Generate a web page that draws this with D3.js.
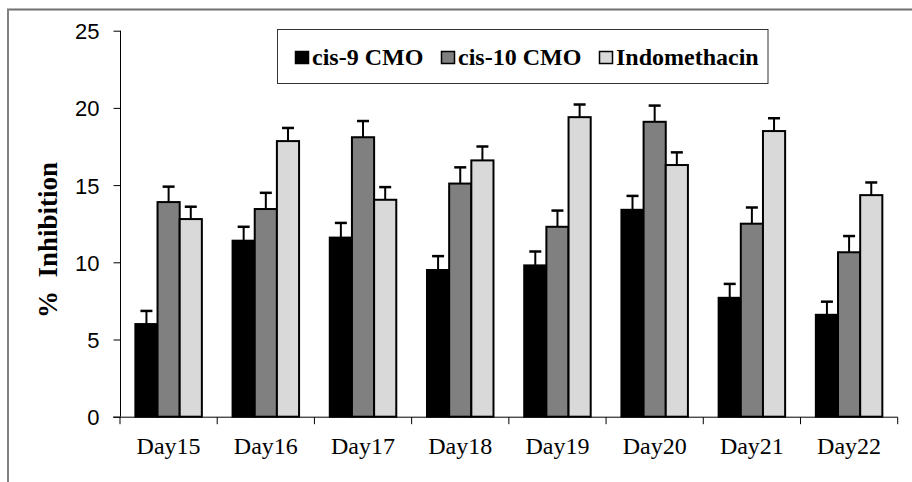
<!DOCTYPE html>
<html>
<head>
<meta charset="utf-8">
<script src="https://cdn.jsdelivr.net/npm/d3@7"></script>
<style>
  body { margin:0; background:#fff; }
  svg { display:block; }
</style>
</head>
<body>
<div id="chart"></div>
<script>
// data
var days = ["Day15","Day16","Day17","Day18","Day19","Day20","Day21","Day22"];
var seriesNames = ["cis-9 CMO","cis-10 CMO","Indomethacin"];
var cis9   = [6.0, 11.4, 11.6, 9.5, 9.8, 13.4, 7.7, 6.6];
var cis9Err  = [0.85, 0.9, 0.95, 0.9, 0.9, 0.9, 0.9, 0.85];
var cis10  = [13.9, 13.45, 18.1, 15.1, 12.3, 19.1, 12.5, 10.65];
var cis10Err = [1.0, 1.05, 1.05, 1.05, 1.05, 1.05, 1.05, 1.05];
var indo   = [12.8, 17.85, 14.05, 16.6, 19.4, 16.3, 18.5, 14.35];
var indoErr  = [0.8, 0.85, 0.82, 0.9, 0.82, 0.82, 0.83, 0.82];
var yTicks = [0, 5, 10, 15, 20, 25];

var fills = ["#000000", "#808080", "#d9d9d9"];
var values = [cis9, cis10, indo];
var errs = [cis9Err, cis10Err, indoErr];

var W = 912, H = 482;
var svg = d3.select('#chart').append('svg')
    .attr('width', W).attr('height', H);

// outer frame (top + left visible)
svg.append('line').attr('x1',7).attr('y1',9.5).attr('x2',W).attr('y2',9.5)
   .attr('stroke','#707070').attr('stroke-width',2);
svg.append('line').attr('x1',8).attr('y1',9).attr('x2',8).attr('y2',H)
   .attr('stroke','#808080').attr('stroke-width',2);

var x = d3.scaleBand().domain(days).range([120, 897.7]).padding(0);
var bw = x.bandwidth();
var xs = d3.scaleBand().domain(d3.range(3)).range([bw*0.158, bw*0.842]).padding(0);
var y = d3.scaleLinear().domain([0, 25]).range([416.7, 30.7]);

// bars
var rows = [];
days.forEach(function(d, i) {
    for (var s = 0; s < 3; s++) rows.push({day:d, s:s, v:values[s][i], e:errs[s][i]});
});

var g = svg.append('g');
g.selectAll('rect.bar').data(rows).enter().append('rect')
    .attr('class','bar')
    .attr('x', function(d){ return x(d.day) + xs(d.s); })
    .attr('y', function(d){ return y(d.v); })
    .attr('width', xs.bandwidth())
    .attr('height', function(d){ return y(0) - y(d.v); })
    .attr('fill', function(d){ return fills[d.s]; })
    .attr('stroke', '#000').attr('stroke-width', 2);

// error bars (up only)
var eb = g.selectAll('g.err').data(rows).enter().append('g').attr('class','err');
eb.append('line')
    .attr('x1', function(d){ return x(d.day) + xs(d.s) + xs.bandwidth()/2; })
    .attr('x2', function(d){ return x(d.day) + xs(d.s) + xs.bandwidth()/2; })
    .attr('y1', function(d){ return y(d.v); })
    .attr('y2', function(d){ return y(d.v + d.e); })
    .attr('stroke','#000').attr('stroke-width',2);
eb.append('line')
    .attr('x1', function(d){ return x(d.day) + xs(d.s) + xs.bandwidth()/2 - 6; })
    .attr('x2', function(d){ return x(d.day) + xs(d.s) + xs.bandwidth()/2 + 6; })
    .attr('y1', function(d){ return y(d.v + d.e); })
    .attr('y2', function(d){ return y(d.v + d.e); })
    .attr('stroke','#000').attr('stroke-width',2.5);

// y axis
var yAxis = d3.axisLeft(y).tickValues(yTicks).tickSize(7).tickPadding(14);
var ya = svg.append('g').attr('transform','translate(120.5,0)').call(yAxis);
ya.select('.domain').attr('d', 'M0,' + y(25) + 'V' + y(0)).attr('stroke','#000');
ya.selectAll('.tick line').attr('stroke','#000');
ya.selectAll('.tick text').attr('font-family','Arial, "Liberation Sans", sans-serif')
    .attr('font-size', 22).attr('fill','#000').attr('dy','0.36em');

// x axis
var xa = svg.append('g').attr('transform','translate(0,' + (y(0)+0.5) + ')');
xa.append('line').attr('x1',113).attr('x2',897.7).attr('y1',0).attr('y2',0).attr('stroke','#000');
var bounds = days.map(function(d){ return x(d); }).concat([x.range()[1]]);
xa.selectAll('line.tk').data(bounds).enter().append('line')
    .attr('class','tk')
    .attr('x1', function(d){ return d; }).attr('x2', function(d){ return d; })
    .attr('y1', 0).attr('y2', 7).attr('stroke','#000');
xa.selectAll('text').data(days).enter().append('text')
    .attr('x', function(d){ return x(d) + bw/2; })
    .attr('y', 37)
    .attr('text-anchor','middle')
    .attr('font-family','"Liberation Serif", "Times New Roman", serif')
    .attr('font-size', 24)
    .text(function(d){ return d; });

// y title
svg.append('text')
    .attr('transform','translate(57,240) rotate(-90)')
    .attr('text-anchor','middle')
    .attr('font-family','"Liberation Serif", "Times New Roman", serif')
    .attr('font-weight','bold')
    .attr('font-size', 27)
    .attr('xml:space','preserve')
    .text('%  Inhibition');

// legend
var leg = svg.append('g');
leg.append('rect').attr('x',277.5).attr('y',29.5).attr('width',490.5).attr('height',54)
    .attr('fill','#fff').attr('stroke','#333').attr('stroke-width',1);
var legX = [295, 441, 599];
seriesNames.forEach(function(n, i) {
    leg.append('rect').attr('x', legX[i] + 0.5).attr('y', 51.5).attr('width', 13).attr('height', 12)
        .attr('fill', fills[i]).attr('stroke','#000').attr('stroke-width',1.5);
    leg.append('text').attr('x', legX[i] + 17).attr('y', 65)
        .attr('font-family','"Liberation Serif", "Times New Roman", serif')
        .attr('font-weight','bold').attr('font-size', 24)
        .text(n);
});
</script>
</body>
</html>
